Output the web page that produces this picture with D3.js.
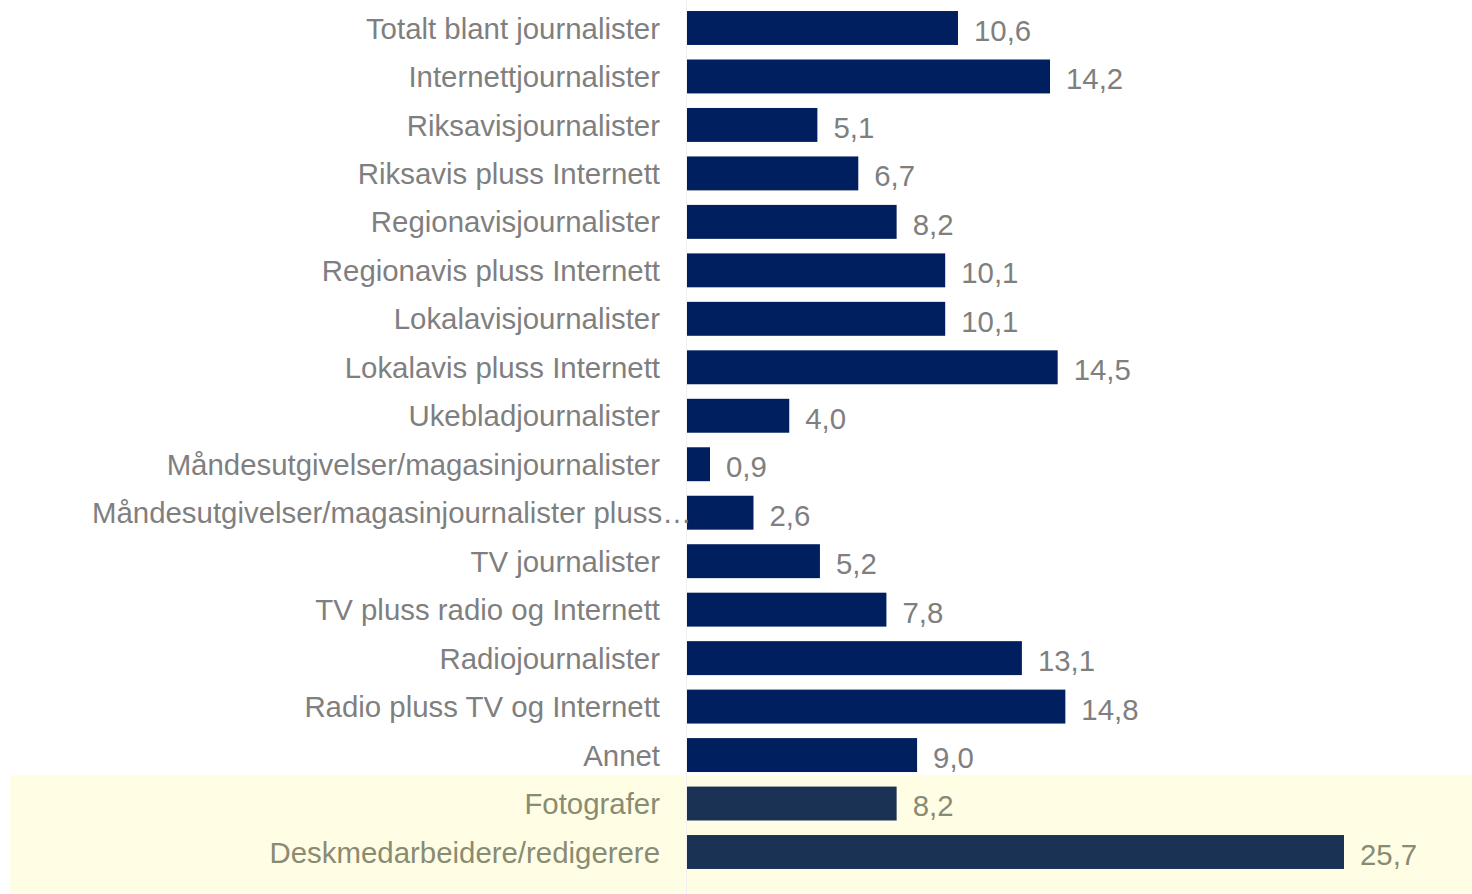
<!DOCTYPE html>
<html>
<head>
<meta charset="utf-8">
<script src="https://cdn.jsdelivr.net/npm/d3@7/dist/d3.min.js"></script>
<style>
	html, body { margin: 0; padding: 0; background: #fff; }
	svg { display: block; }
	svg text { font-family: "Liberation Sans", sans-serif; }
</style>
</head>
<body>
<svg id="chart" width="1472" height="894"></svg>
<script>
var categories = [
	"Totalt blant journalister",
	"Internettjournalister",
	"Riksavisjournalister",
	"Riksavis pluss Internett",
	"Regionavisjournalister",
	"Regionavis pluss Internett",
	"Lokalavisjournalister",
	"Lokalavis pluss Internett",
	"Ukebladjournalister",
	"Måndesutgivelser/magasinjournalister",
	"Måndesutgivelser/magasinjournalister pluss…",
	"TV journalister",
	"TV pluss radio og Internett",
	"Radiojournalister",
	"Radio pluss TV og Internett",
	"Annet",
	"Fotografer",
	"Deskmedarbeidere/redigerere"
];
var values = [10.6, 14.2, 5.1, 6.7, 8.2, 10.1, 10.1, 14.5, 4.0, 0.9, 2.6, 5.2, 7.8, 13.1, 14.8, 9.0, 8.2, 25.7];
var highlighted = ["Fotografer", "Deskmedarbeidere/redigerere"];

var svg = d3.select("#chart"),
	width = 1472,
	height = 894,
	fontSize = 29.4,
	labelLeft = 92; // labels that are too long start here and run past the gap

var x = d3.scaleLinear()
	.domain([0, 25.7])
	.range([687, 1344]);

var y = d3.scaleBand()
	.domain(categories)
	.range([3.76, 876.24])
	.paddingInner(0.3)
	.paddingOuter(0.15);

var fmt = function(v) { return d3.format(".1f")(v).replace(".", ","); };
var isHi = function(c) { return highlighted.indexOf(c) >= 0; };

// yellow box behind the last two rows
var hiTop = y(highlighted[0]) - (y.step() - y.bandwidth()) / 2 - 4;
svg.append("rect")
	.attr("x", 10)
	.attr("y", hiTop)
	.attr("width", width - 10)
	.attr("height", height - 1 - hiTop)
	.attr("fill", "#fffee5");

// faint axis line
svg.append("line")
	.attr("x1", x(0) - 0.5).attr("x2", x(0) - 0.5)
	.attr("y1", 0)
	.attr("y2", height)
	.attr("stroke", "#f0f0f0")
	.attr("stroke-width", 1);

var rows = svg.append("g")
	.selectAll("g")
	.data(categories)
	.enter().append("g");

rows.append("rect")
	.attr("x", x(0))
	.attr("y", (d) => y(d))
	.attr("width", (d, i) => x(values[i]) - x(0))
	.attr("height", y.bandwidth())
	.attr("fill", (d) => isHi(d) ? "#1a3355" : "#001f5f");

var labels = rows.append("text")
	.attr("x", x(0) - 27)
	.attr("y", (d) => y(d) + y.bandwidth() / 2)
	.attr("dy", "0.36em")
	.attr("text-anchor", "end")
	.attr("font-size", fontSize)
	.attr("fill", (d) => isHi(d) ? "#8a8b73" : "#7f7f7f")
	.text((d) => d);

// overflowing label: pin its left edge instead
labels.each(function() {
	var w = this.getComputedTextLength();
	if (x(0) - 27 - w < labelLeft) {
		d3.select(this).attr("text-anchor", "start").attr("x", labelLeft);
	}
});

rows.append("text")
	.attr("x", (d, i) => x(values[i]) + 16)
	.attr("y", (d) => y(d) + y.bandwidth() / 2)
	.attr("dy", "0.44em")
	.attr("font-size", fontSize)
	.attr("fill", (d) => isHi(d) ? "#8a8b73" : "#7f7f7f")
	.text((d, i) => fmt(values[i]));
</script>
</body>
</html>
